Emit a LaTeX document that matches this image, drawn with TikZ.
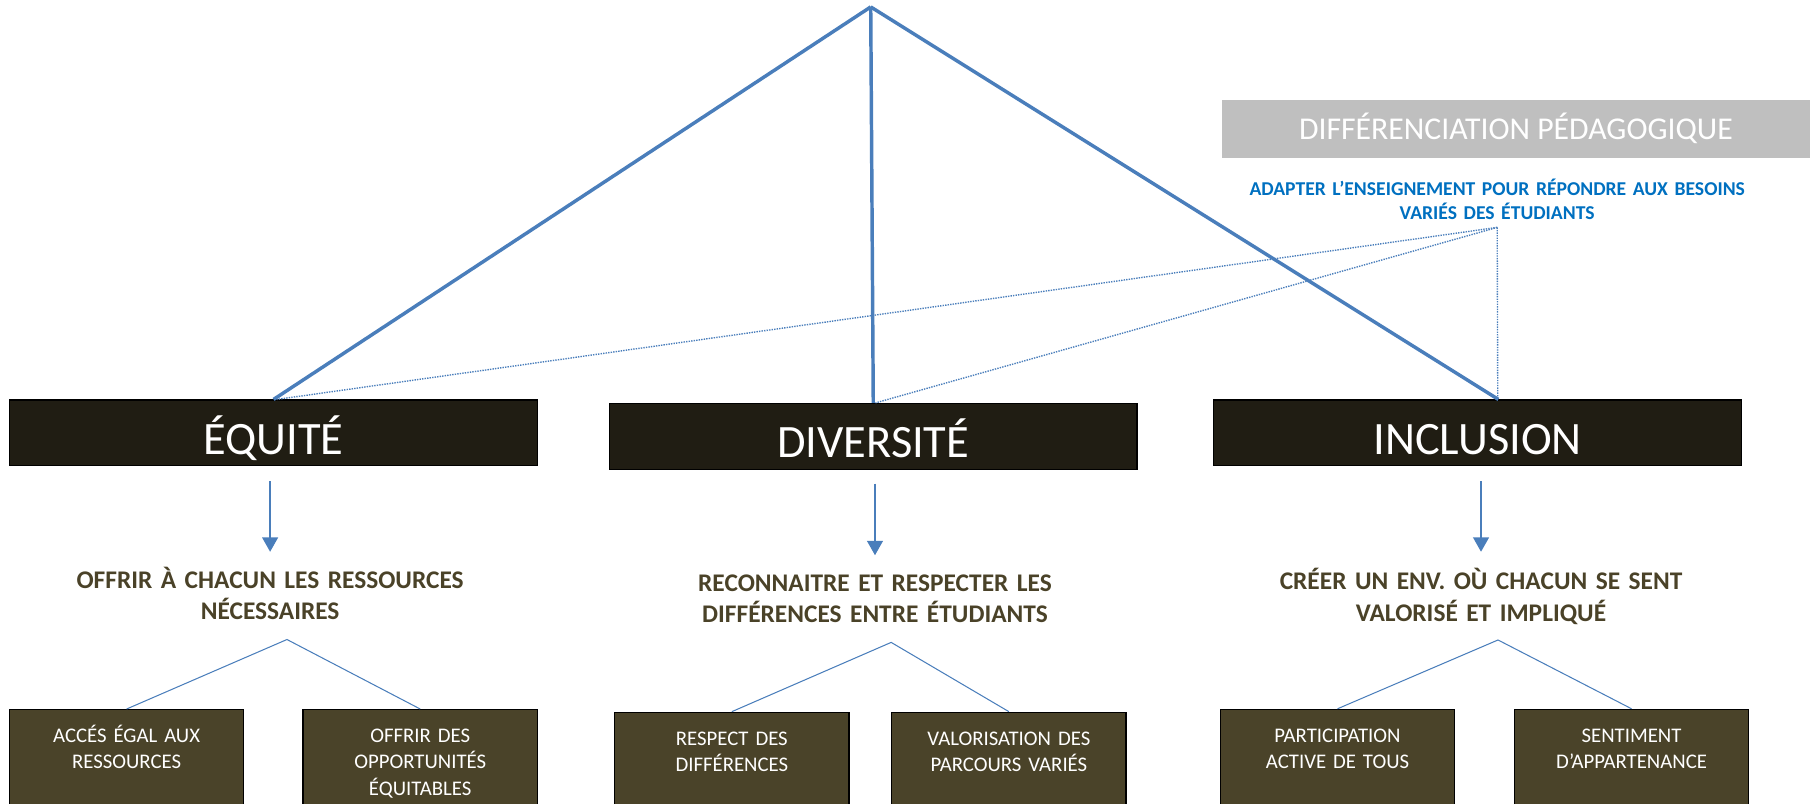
\documentclass[tikz,border=0pt]{standalone}
\usepackage{fontspec}
\setmainfont{Carlito}
\usetikzlibrary{arrows.meta,calc}
\definecolor{bigfill}{HTML}{201D13}
\definecolor{smallfill}{HTML}{4A4329}
\definecolor{subcol}{HTML}{4A4228}
\definecolor{linecol}{HTML}{4A7EBB}
\definecolor{bluetext}{HTML}{0070C0}
\definecolor{headgray}{HTML}{BFBFBF}
\begin{document}
\begin{tikzpicture}[x=1pt,y=-1pt,
  bigbox/.style={draw=black, line width=1pt, fill=bigfill, text=white, inner sep=0pt,
    minimum width=457pt, text height=47pt, text depth=10pt, anchor=north,
    font=\fontsize{40.2}{47}\selectfont},
  smallbox/.style={draw=black, line width=1.2pt, fill=smallfill, text=white, anchor=north,
    text width=203pt, align=center, inner xsep=0pt, inner ysep=0pt,
    text height=28.5pt, text depth=150pt, font=\fontsize{18}{22.7}\selectfont},
  subtitle/.style={text=subcol, font=\bfseries\fontsize{22}{27}\selectfont, align=center,
    text width=480pt, anchor=base, inner sep=0pt},
  mainline/.style={draw=linecol, line width=3pt},
  dotline/.style={draw=linecol, line width=1.2pt, dash pattern=on 1.2pt off 1pt},
  treeline/.style={draw=linecol, line width=0.9pt},
  arr/.style={draw=linecol, line width=1.5pt, -{Triangle[width=13.6pt,length=12.4pt]}}
]
\useasboundingbox (0,0) rectangle (1568,696);

% header
\node[fill=headgray, text=white, minimum width=510pt, anchor=north west, inner sep=0pt,
  text height=35pt, text depth=16pt, font=\fontsize{27.5}{30}\selectfont]
  (head) at (1058,86) {DIFFÉRENCIATION PÉDAGOGIQUE};
\node[text=bluetext, font=\bfseries\fontsize{17}{21}\selectfont, align=center,
  text width=480pt, anchor=base, inner sep=0pt] (adapt) at (1297,169)
  {ADAPTER L’ENSEIGNEMENT POUR RÉPONDRE AUX BESOINS\\VARIÉS DES ÉTUDIANTS};
\coordinate (D) at (1297,197);
\coordinate (apex) at (754.3,6);

% main boxes
\node[bigbox] (eq) at (237,346) {ÉQUITÉ};
\node[bigbox] (div) at (756.5,349) {DIVERSITÉ};
\node[bigbox] (inc) at (1280,346) {INCLUSION};

% main lines
\draw[mainline] (apex) -- (eq.north);
\draw[mainline] (apex) -- (div.north);
\draw[mainline] (apex) -- ([xshift=18pt]inc.north);

% dotted lines
\draw[dotline] (D) -- ([xshift=3pt]eq.north);
\draw[dotline] (D) -- ([xshift=2pt]div.north);
\draw[dotline] (D) -- ([xshift=17.5pt]inc.north);

% subtitles
\node[subtitle] (eqsub) at (234,510) {OFFRIR À CHACUN LES RESSOURCES\\NÉCESSAIRES};
\node[subtitle] (divsub) at (758,512) {RECONNAITRE ET RESPECTER LES\\DIFFÉRENCES ENTRE ÉTUDIANTS};
\node[subtitle] (incsub) at (1283,511) {CRÉER UN ENV. OÙ CHACUN SE SENT\\VALORISÉ ET IMPLIQUÉ};

% arrows
\coordinate (eqa1) at (234,417); \coordinate (eqa2) at (234,478);
\coordinate (diva1) at (758,419); \coordinate (diva2) at (758,481);
\coordinate (inca1) at (1283,417); \coordinate (inca2) at (1283,478);
\draw[arr] (eqa1) -- (eqa2);
\draw[arr] (diva1) -- (diva2);
\draw[arr] (inca1) -- (inca2);

% small boxes
\node[smallbox] (eq1) at (109.7,614.2) {ACCÉS ÉGAL AUX\\RESSOURCES};
\node[smallbox] (eq2) at (364,614.2) {OFFRIR DES\\OPPORTUNITÉS\\ÉQUITABLES};
\node[smallbox] (div1) at (634,616.5) {RESPECT DES\\DIFFÉRENCES};
\node[smallbox] (div2) at (874,616.5) {VALORISATION DES\\PARCOURS VARIÉS};
\node[smallbox] (inc1) at (1158.7,614) {PARTICIPATION\\ACTIVE DE TOUS};
\node[smallbox] (inc2) at (1413.4,614) {SENTIMENT\\D’APPARTENANCE};

% tree lines
\coordinate (eqt) at (248.6,554);
\coordinate (divt) at (772,556.5);
\coordinate (inct) at (1297.7,554.4);
\draw[treeline] (eq1.north) -- (eqt) -- (eq2.north);
\draw[treeline] (div1.north) -- (divt) -- (div2.north);
\draw[treeline] (inc1.north) -- (inct) -- (inc2.north);
\end{tikzpicture}
\end{document}
